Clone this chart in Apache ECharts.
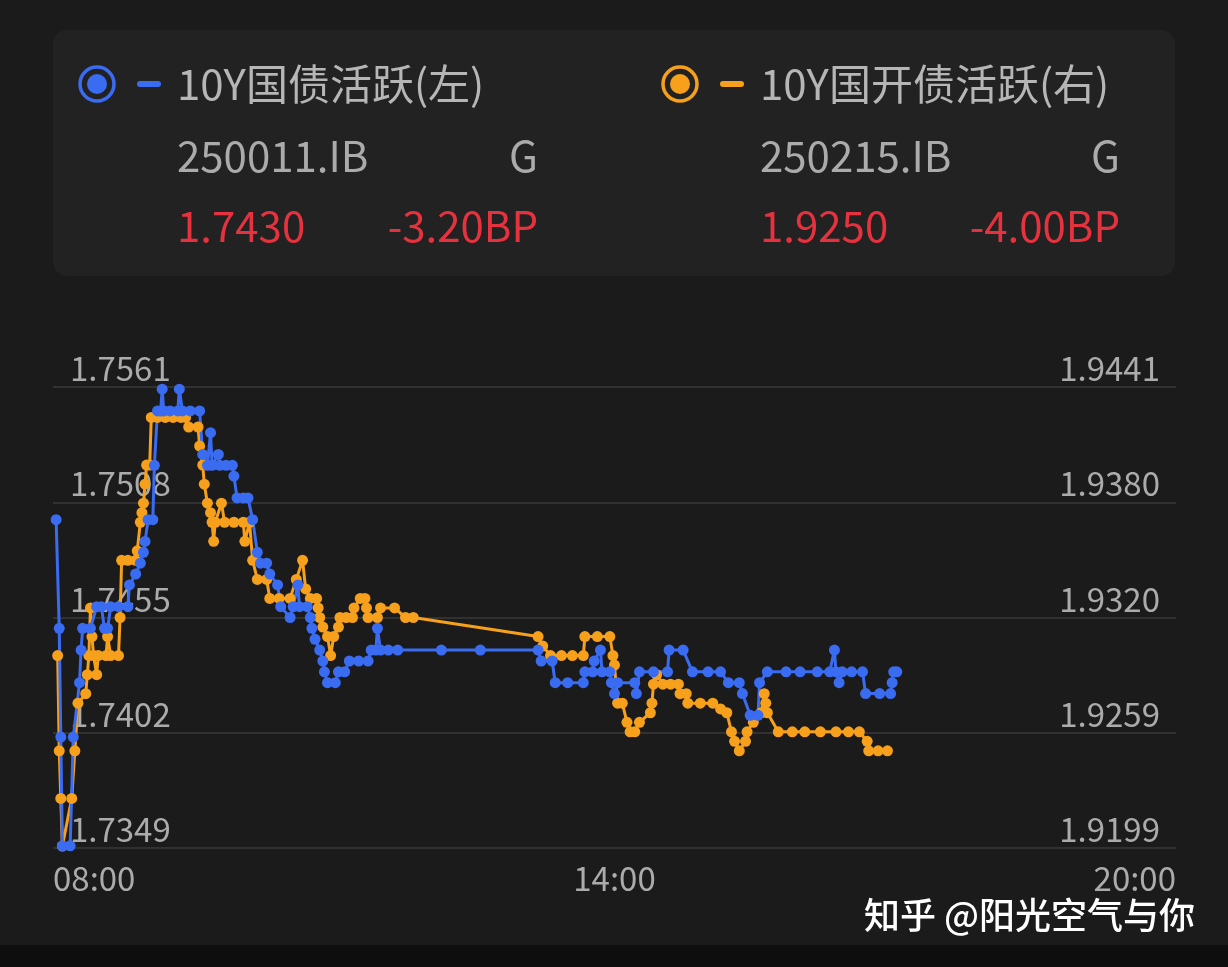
<!DOCTYPE html>
<html>
<head>
<meta charset="utf-8">
<script src="https://cdn.jsdelivr.net/npm/echarts@6/dist/echarts.min.js"></script>
<style>
  html, body { margin:0; padding:0; background:#1b1b1b; }
  #chart { width:1228px; height:967px; }
</style>
</head>
<body>
<div id="chart"></div>
<script>
// ---- data (time = minutes after 08:00) ----
const xTickValues = [0, 360, 720];
const xTickLabels = ['08:00', '14:00', '20:00'];

const leftTicks = [1.7349, 1.7402, 1.7455, 1.7508, 1.7561];
const leftTickLabels = ['1.7349', '1.7402', '1.7455', '1.7508', '1.7561'];
const rightTicks = [1.9199, 1.92595, 1.9320, 1.93805, 1.9441];
const rightTickLabels = ['1.9199', '1.9259', '1.9320', '1.9380', '1.9441'];

// 10Y国债活跃 (左轴)
const govMinutes = [2,4,5,6,11,13,17,18,19,24,28,31,33,35,37,42,48,49,53,56,58,59,61,64,65,67,69,70,71,75,80,81,83,88,94,96,99,101,102,106,107,111,115,116,118,122,125,128,131,133,137,139,144,146,152,154,157,158,163,165,166,168,171,173,174,176,181,183,187,190,196,202,204,207,208,210,215,221,249,274,311,313,320,322,330,340,341,346,347,351,352,357,358,360,362,373,374,376,385,394,395,404,410,420,428,433,440,442,447,452,453,458,470,479,490,498,501,502,504,506,512,519,521,530,537,538,539,541];
const govYields = [1.7500,1.7450,1.7400,1.7350,1.7350,1.7400,1.7425,1.7440,1.7450,1.7450,1.7460,1.7460,1.7450,1.7450,1.7460,1.7460,1.7460,1.7470,1.7475,1.7480,1.7485,1.7490,1.7500,1.7500,1.7525,1.7550,1.7550,1.7560,1.7550,1.7550,1.7550,1.7560,1.7550,1.7550,1.7550,1.7530,1.7525,1.7540,1.7525,1.7530,1.7525,1.7525,1.7525,1.7520,1.7510,1.7510,1.7510,1.7500,1.7485,1.7480,1.7480,1.7475,1.7470,1.7460,1.7455,1.7460,1.7470,1.7460,1.7460,1.7455,1.7450,1.7445,1.7440,1.7435,1.7430,1.7425,1.7425,1.7430,1.7430,1.7435,1.7435,1.7435,1.7440,1.7440,1.7450,1.7440,1.7440,1.7440,1.7440,1.7440,1.7440,1.7435,1.7435,1.7425,1.7425,1.7425,1.7430,1.7430,1.7435,1.7440,1.7430,1.7430,1.7425,1.7420,1.7425,1.7425,1.7420,1.7430,1.7430,1.7430,1.7440,1.7440,1.7430,1.7430,1.7430,1.7425,1.7425,1.7420,1.7410,1.7410,1.7425,1.7430,1.7430,1.7430,1.7430,1.7430,1.7440,1.7430,1.7425,1.7430,1.7430,1.7430,1.7420,1.7420,1.7420,1.7425,1.7430,1.7430];

// 10Y国开债活跃 (右轴)
const cdbMinutes = [3,4,5,6,12,14,16,21,22,23,24,25,26,28,29,34,35,37,42,43,44,48,53,54,56,57,58,59,60,62,63,67,72,77,82,85,87,93,94,96,97,99,101,102,103,104,108,110,116,122,123,126,128,131,137,139,145,152,156,160,162,165,169,170,171,173,176,178,180,183,184,188,192,193,197,200,201,202,208,210,219,226,231,311,314,319,326,333,340,341,349,357,359,360,362,365,368,370,373,376,383,384,385,387,391,396,401,402,406,407,415,423,428,432,435,437,440,444,445,449,454,456,457,458,465,474,482,492,502,510,517,522,523,529,535];
const cdbYields = [1.9300,1.9250,1.9225,1.9200,1.9225,1.9250,1.9275,1.9280,1.9290,1.9300,1.9325,1.9310,1.9300,1.9290,1.9300,1.9300,1.9310,1.9300,1.9300,1.9320,1.9350,1.9350,1.9350,1.9355,1.9370,1.9375,1.9380,1.9390,1.9400,1.9400,1.9425,1.9425,1.9425,1.9425,1.9425,1.9425,1.9420,1.9420,1.9410,1.9400,1.9390,1.9380,1.9375,1.9370,1.9360,1.9370,1.9380,1.9370,1.9370,1.9370,1.9360,1.9370,1.9350,1.9340,1.9340,1.9330,1.9330,1.9330,1.9340,1.9350,1.9335,1.9330,1.9330,1.9325,1.9320,1.9315,1.9310,1.9300,1.9310,1.9315,1.9320,1.9320,1.9320,1.9325,1.9330,1.9330,1.9325,1.9320,1.9320,1.9325,1.9325,1.9320,1.9320,1.9310,1.9305,1.9300,1.9300,1.9300,1.9300,1.9310,1.9310,1.9310,1.9300,1.9295,1.9275,1.9275,1.9265,1.9260,1.9260,1.9265,1.9270,1.9275,1.9285,1.9290,1.9285,1.9285,1.9285,1.9280,1.9280,1.9275,1.9275,1.9275,1.9272,1.9270,1.9260,1.9255,1.9250,1.9255,1.9260,1.9265,1.9270,1.9280,1.9275,1.9270,1.9260,1.9260,1.9260,1.9260,1.9260,1.9260,1.9260,1.9255,1.9250,1.9250,1.9250];

// header info
const govName = '10Y国债活跃(左)', govCode = '250011.IB', govLast = '1.7430', govChg = '-3.20BP';
const cdbName = '10Y国开债活跃(右)', cdbCode = '250215.IB', cdbLast = '1.9250', cdbChg = '-4.00BP';
const tag = 'G';
const watermark = '知乎 @阳光空气与你';

// ---- styles ----
const BLUE = '#3a6cf2', ORANGE = '#f6a01c', RED = '#e6323f', GRAY = '#ababab';
const FONT = '"Noto Sans CJK SC", "Noto Sans", sans-serif';

function pickLabel(v, ticks, labels) {
  let best = 0;
  for (let i = 1; i < ticks.length; i++) if (Math.abs(ticks[i] - v) < Math.abs(ticks[best] - v)) best = i;
  return labels[best];
}

const chart = echarts.init(document.getElementById('chart'), null, { renderer: 'canvas' });

function headerBlock(x0, color, name, code, last, chg, rightEdge) {
  const f = '42px ' + FONT;
  return [
    { type: 'circle', shape: { cx: x0 - 80, cy: 84, r: 17 }, style: { fill: 'none', stroke: color, lineWidth: 3.5 } },
    { type: 'circle', shape: { cx: x0 - 80, cy: 84, r: 10 }, style: { fill: color } },
    { type: 'rect', shape: { x: x0 - 40, y: 81, width: 24, height: 6, r: 3 }, style: { fill: color } },
    { type: 'text', x: x0, y: 84, style: { text: name, font: f, fill: '#b6b6b6', verticalAlign: 'middle', align: 'left' } },
    { type: 'text', x: x0, y: 156, style: { text: code, font: f, fill: GRAY, verticalAlign: 'middle', align: 'left' } },
    { type: 'text', x: rightEdge, y: 156, style: { text: tag, font: f, fill: GRAY, verticalAlign: 'middle', align: 'right' } },
    { type: 'text', x: x0, y: 226, style: { text: last, font: f, fill: RED, verticalAlign: 'middle', align: 'left' } },
    { type: 'text', x: rightEdge, y: 226, style: { text: chg, font: f, fill: RED, verticalAlign: 'middle', align: 'right' } }
  ];
}

const option = {
  backgroundColor: '#1b1b1b',
  animation: false,
  grid: { left: 53, right: 52, top: 387, bottom: 119, containLabel: false },
  xAxis: {
    type: 'value', min: xTickValues[0], max: xTickValues[2], interval: xTickValues[1] - xTickValues[0],
    axisLine: { show: false }, axisTick: { show: false }, splitLine: { show: false },
    axisLabel: {
      color: GRAY, fontSize: 33, fontFamily: FONT, margin: 14,
      alignMinLabel: 'left', alignMaxLabel: 'right',
      formatter: v => pickLabel(v, xTickValues, xTickLabels)
    }
  },
  yAxis: [
    {
      type: 'value', position: 'left', min: leftTicks[0], max: leftTicks[leftTicks.length - 1],
      axisLine: { show: false },
      axisTick: { show: false, customValues: leftTicks },
      splitLine: { show: true, lineStyle: { color: '#3a3a3a', width: 1.5 } },
      axisLabel: {
        inside: true, customValues: leftTicks, color: GRAY, fontSize: 33, fontFamily: FONT,
        margin: 17, verticalAlign: 'bottom', padding: [0, 0, 2, 0],
        formatter: v => pickLabel(v, leftTicks, leftTickLabels)
      }
    },
    {
      type: 'value', position: 'right', min: rightTicks[0], max: rightTicks[rightTicks.length - 1],
      axisLine: { show: false },
      axisTick: { show: false, customValues: rightTicks },
      splitLine: { show: false },
      axisLabel: {
        inside: true, customValues: rightTicks, color: GRAY, fontSize: 33, fontFamily: FONT,
        margin: 16, verticalAlign: 'bottom', padding: [0, 0, 2, 0],
        formatter: v => pickLabel(v, rightTicks, rightTickLabels)
      }
    }
  ],
  series: [
    {
      name: cdbName, type: 'line', yAxisIndex: 1,
      data: cdbMinutes.map((m, i) => [m, cdbYields[i]]),
      symbol: 'circle', symbolSize: 11, showSymbol: true, showAllSymbol: true,
      lineStyle: { color: ORANGE, width: 3 }, itemStyle: { color: ORANGE }
    },
    {
      name: govName, type: 'line', yAxisIndex: 0,
      data: govMinutes.map((m, i) => [m, govYields[i]]),
      symbol: 'circle', symbolSize: 11, showSymbol: true, showAllSymbol: true,
      lineStyle: { color: BLUE, width: 3 }, itemStyle: { color: BLUE }
    }
  ],
  graphic: [
    { type: 'rect', z: -10, shape: { x: 53, y: 30, width: 1122, height: 246, r: 14 }, style: { fill: '#222222' } },
    ...headerBlock(177, BLUE, govName, govCode, govLast, govChg, 538),
    ...headerBlock(760, ORANGE, cdbName, cdbCode, cdbLast, cdbChg, 1120),
    { type: 'rect', shape: { x: 0, y: 945, width: 1228, height: 22 }, style: { fill: '#0e0e0e' } },
    { type: 'text', x: 1195, y: 915, style: { text: watermark, font: '500 36px ' + FONT, fill: '#ffffff', align: 'right', verticalAlign: 'middle', shadowColor: 'rgba(0,0,0,0.8)', shadowBlur: 3, shadowOffsetX: 1, shadowOffsetY: 1 } }
  ]
};
chart.setOption(option);
</script>
</body>
</html>
